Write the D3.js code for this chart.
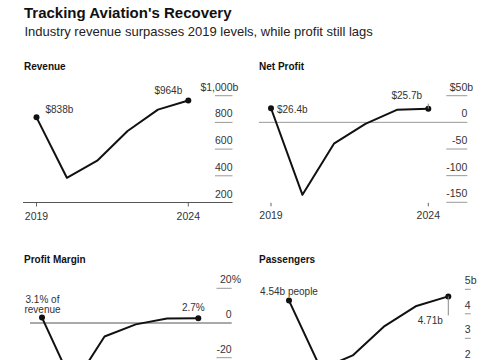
<!DOCTYPE html>
<html><head><meta charset="utf-8">
<script src="https://cdn.jsdelivr.net/npm/d3@7"></script>
<style>
html,body{margin:0;padding:0;background:#fff;}
svg{display:block;font-family:"Liberation Sans",Arial,sans-serif;}
</style></head>
<body>
<svg id="c" width="485" height="360"></svg>
<script>
const years = [2019, 2020, 2021, 2022, 2023, 2024];
const revenue = [838, 385, 513, 736, 896, 964];
const netProfit = [26.4, -136, -40, -3, 23.5, 25.7];
const profitMargin = [3.1, -35.9, -7.8, -0.8, 2.6, 2.7];
const passengers = [4.54, 1.75, 2.3, 3.5, 4.32, 4.71];
const yearLabels = [2019, 2024];
const revenueTicks = [200, 400, 600, 800, 1000];
const revenueTickLabels = ["200", "400", "600", "800", "$1,000"];
const netProfitTicks = [-150, -100, -50, 0, 50];
const netProfitTickLabels = ["-150", "-100", "-50", "0", "$50"];
const marginTicks = [-20, 0, 20];
const marginTickLabels = ["-20", "0", "20"];
const passengerTicks = [2, 3, 4, 5];
const passengerTickLabels = ["2", "3", "4", "5"];

const svg = d3.select("#c");

svg.append("text").attr("x", 24).attr("y", 17.5).attr("font-size", 15).attr("font-weight", "bold")
  .attr("fill", "#111").text("Tracking Aviation's Recovery");
svg.append("text").attr("x", 24.5).attr("y", 36).attr("font-size", 13).attr("fill", "#222")
  .text("Industry revenue surpasses 2019 levels, while profit still lags");

const panels = [
  {title: "Revenue", tx: 24, ty: 69.5, values: revenue, ticks: revenueTicks, tickLabels: revenueTickLabels, unit: "b",
   xr: [36.5, 188.3], yd: [200, 1000], yr: [202.5, 95.7], lineStart: 23, axisRight: 232.5,
   base: 200, baseColor: "#555", years: true, tickMarks: true, fullBase: true},
  {title: "Net Profit", tx: 259, ty: 69.5, values: netProfit, ticks: netProfitTicks, tickLabels: netProfitTickLabels, unit: "b",
   xr: [271, 428.3], yd: [-150, 50], yr: [202.3, 95.7], lineStart: 259, axisRight: 467.3,
   base: 0, baseColor: "#999", years: true, tickMarks: true, fullBase: true},
  {title: "Profit Margin", tx: 24, ty: 262.5, values: profitMargin, ticks: marginTicks, tickLabels: marginTickLabels, unit: "%",
   xr: [42, 198.3], yd: [-20, 20], yr: [357.7, 288.3], lineStart: 30, axisRight: 231.7,
   base: 0, baseColor: "#555", years: false, fullBase: true},
  {title: "Passengers", tx: 259, ty: 262.5, values: passengers, ticks: passengerTicks, tickLabels: passengerTickLabels, unit: "b",
   xr: [289, 448.3], yd: [3, 5], yr: [338.3, 289.3], lineStart: 277, axisRight: 470.7,
   base: null, years: false, fullBase: false}
];

panels.forEach((p, pi) => {
  const g = svg.append("g");
  const x = d3.scaleLinear().domain([2019, 2024]).range(p.xr);
  const y = d3.scaleLinear().domain(p.yd).range(p.yr);
  p.x = x; p.y = y;
  g.append("text").attr("x", p.tx).attr("y", p.ty).attr("font-size", 10).attr("font-weight", "bold")
    .attr("fill", "#111").text(p.title);

  const lab = g.selectAll(".tl").data(p.ticks).join("text")
    .attr("x", p.axisRight).attr("y", d => y(d) - 5)
    .attr("text-anchor", "end").attr("font-size", 10.5).attr("fill", "#333")
    .text((d, i) => p.tickLabels[i]);
  let w = 0;
  lab.each(function(d, i) {
    const t = p.tickLabels[i];
    if (t.startsWith("$")) return;
    w = Math.max(w, this.getComputedTextLength());
  });
  g.append("text").attr("x", p.axisRight).attr("y", y(p.ticks[p.ticks.length - 1]) - 5)
    .attr("font-size", 10.5).attr("fill", "#333").text(p.unit);

  g.selectAll(".gl").data(p.ticks.filter(t => t !== p.base)).join("line")
    .attr("x1", p.axisRight - w).attr("x2", p.axisRight)
    .attr("y1", d => y(d)).attr("y2", d => y(d))
    .attr("stroke", "#999").attr("stroke-width", 1);

  if (p.base !== null) {
    g.append("line").attr("x1", p.lineStart).attr("x2", p.axisRight)
      .attr("y1", y(p.base)).attr("y2", y(p.base))
      .attr("stroke", p.baseColor).attr("stroke-width", 1);
  }

  if (p.years) {
    const yb = p.yr[0];
    g.selectAll(".yt").data(yearLabels).join("line")
      .attr("x1", d => x(d)).attr("x2", d => x(d))
      .attr("y1", yb + 0.5).attr("y2", yb + 4)
      .attr("stroke", "#666").attr("stroke-width", 1);
    g.selectAll(".yl").data(yearLabels).join("text")
      .attr("x", d => x(d)).attr("y", yb + 17)
      .attr("text-anchor", "middle").attr("font-size", 10.5).attr("fill", "#333").text(d => d);
  }

  const line = d3.line().x((d, i) => x(years[i])).y(d => y(d));
  g.append("path").datum(p.values).attr("d", line).attr("fill", "none")
    .attr("stroke", "#111").attr("stroke-width", 2).attr("stroke-linejoin", "round");
  const ends = [0, p.values.length - 1];
  g.selectAll(".dot").data(ends).join("circle")
    .attr("cx", i => x(years[i])).attr("cy", i => y(p.values[i])).attr("r", 3).attr("fill", "#111");
});

function ann(g, xx, yy, txt, anchor) {
  g.append("text").attr("x", xx).attr("y", yy).attr("text-anchor", anchor || "start")
    .attr("font-size", 10).attr("fill", "#333").text(txt);
}
const g2 = svg.append("g");
{
  const p = panels[0];
  ann(g2, p.x(2019) + 9, p.y(revenue[0]) - 4, "$838b");
  ann(g2, p.x(2024) - 20, p.y(revenue[5]) - 7, "$964b", "middle");
}
{
  const p = panels[1];
  ann(g2, p.x(2019) + 6, p.y(netProfit[0]) + 4.5, "$26.4b");
  ann(g2, p.x(2024) - 21.5, p.y(netProfit[5]) - 9.5, "$25.7b", "middle");
  g2.append("line").attr("x1", p.x(2024)).attr("x2", p.x(2024))
    .attr("y1", p.y(netProfit[5]) - 5).attr("y2", p.y(netProfit[5])).attr("stroke", "#888");
}
{
  const p = panels[2];
  ann(g2, p.x(2019) + 0.5, p.y(profitMargin[0]) - 15, "3.1% of", "middle");
  ann(g2, p.x(2019) + 0.5, p.y(profitMargin[0]) - 5, "revenue", "middle");
  ann(g2, p.x(2024) - 5, p.y(profitMargin[5]) - 7, "2.7%", "middle");
}
{
  const p = panels[3];
  ann(g2, p.x(2019), p.y(passengers[0]) - 6, "4.54b people", "middle");
  ann(g2, p.x(2024) - 18, p.y(passengers[5]) + 28, "4.71b", "middle");
  g2.append("line").attr("x1", p.x(2024)).attr("x2", p.x(2024))
    .attr("y1", p.y(passengers[5])).attr("y2", p.y(passengers[5]) + 19).attr("stroke", "#888");
}
</script>
</body></html>
